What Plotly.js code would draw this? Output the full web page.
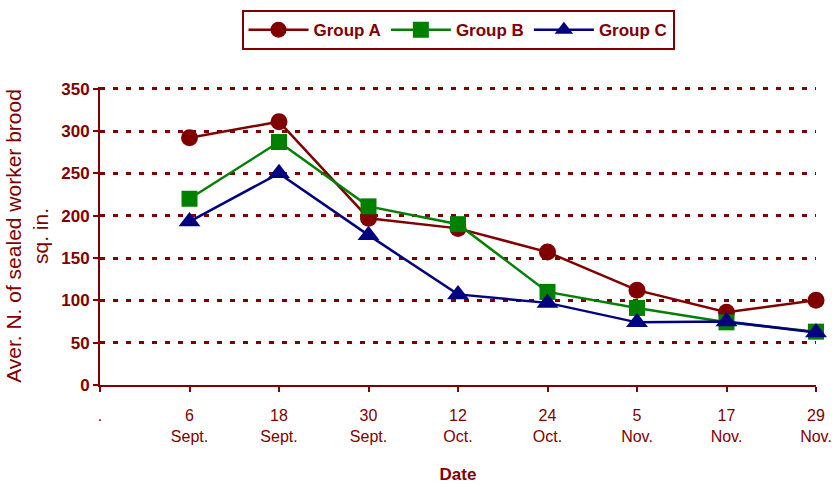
<!DOCTYPE html>
<html>
<head>
<meta charset="utf-8">
<script src="https://cdn.plot.ly/plotly-3.0.1.min.js"></script>
<style>html,body{margin:0;padding:0;background:#fff;}#chart{width:832px;height:484px;}</style>
</head>
<body>
<div id="chart"></div>
<script>
const tickLabels = ['.', '6<br>Sept.', '18<br>Sept.', '30<br>Sept.', '12<br>Oct.', '24<br>Oct.', '5<br>Nov.', '17<br>Nov.', '29<br>Nov.'];
const dates = ['6<br>Sept.', '18<br>Sept.', '30<br>Sept.', '12<br>Oct.', '24<br>Oct.', '5<br>Nov.', '17<br>Nov.', '29<br>Nov.'];
const groupA = [292, 311, 197, 185, 157, 112, 86, 100];
const groupB = [220, 287, 211, 190, 110, 91, 74, 63];
const groupC = [193, 250, 177, 107, 97, 74, 75, 62];
const yTicks = [0, 50, 100, 150, 200, 250, 300, 350];

const red = '#800000';
const sans = '"Liberation Sans", Arial, sans-serif';
function trace(name, y, color, symbol, size) {
  return {
    x: dates, y: y, name: name, type: 'scatter', mode: 'lines+markers',
    line: {color: color, width: 2.5},
    marker: {color: color, symbol: symbol, size: size},
    cliponaxis: false
  };
}
const data = [
  trace('Group A', groupA, red, 'circle', 17),
  trace('Group B', groupB, '#008000', 'square', 16),
  trace('Group C', groupC, '#000080', 'triangle-up', 19)
];
const layout = {
  width: 832, height: 484,
  margin: {l: 100, r: 16, t: 87, b: 99, autoexpand: false},
  paper_bgcolor: '#fff', plot_bgcolor: '#fff',
  font: {family: sans, color: red},
  showlegend: true,
  legend: {
    orientation: 'h', x: 0.5, xanchor: 'center',
    yref: 'container', y: 0.979, yanchor: 'top',
    bordercolor: red, borderwidth: 2,
    font: {size: 17, color: red, family: sans, weight: 'bold'},
    itemwidth: 60, tracegroupgap: 0
  },
  xaxis: {
    type: 'category', categoryorder: 'array', categoryarray: tickLabels,
    tickvals: tickLabels, ticktext: tickLabels,
    range: [0, 8], showgrid: false, zeroline: false,
    showline: true, linecolor: red, linewidth: 2,
    ticks: 'outside', ticklen: 5, tickcolor: red, tickwidth: 2,
    tickfont: {size: 16, color: red, family: sans},
    ticklabelstandoff: 10, automargin: false,
    title: {text: '<b>Date</b>', font: {size: 17, color: red, family: sans}, standoff: 26}
  },
  yaxis: {
    range: [0, 352], tickvals: yTicks, showgrid: true,
    gridcolor: red, gridwidth: 3, griddash: '5px,8px',
    zeroline: false, showline: true, linecolor: red, linewidth: 2,
    ticks: 'outside', ticklen: 5, tickcolor: red, tickwidth: 2,
    tickfont: {size: 17, color: red, weight: 'bold', family: sans},
    automargin: false,
    title: {text: 'Aver. N. of sealed worker brood<br>sq. in.', font: {size: 21, color: red, family: sans}, standoff: 7}
  }
};
Plotly.newPlot('chart', data, layout, {displayModeBar: false, staticPlot: true});
</script>
</body>
</html>
